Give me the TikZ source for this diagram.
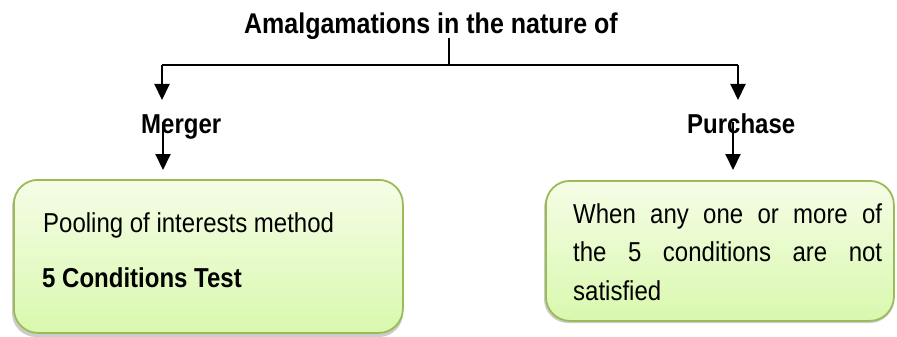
\documentclass[tikz,border=0pt]{standalone}
\usepackage{fontspec}
\setmainfont{Liberation Sans}
\usetikzlibrary{arrows.meta}
\definecolor{boxline}{HTML}{9BBB59}
\definecolor{boxtop}{HTML}{F5FDE6}
\definecolor{boxbot}{HTML}{D9F8AE}
\newcommand{\tallx}[1]{\scalebox{1}[1.14]{#1}}
\tikzset{
  big/.style={font=\fontsize{24}{39}\selectfont, inner sep=0pt},
  ttl/.style={font=\fontsize{25}{30}\selectfont\bfseries, inner sep=0pt},
  lbl/.style={font=\fontsize{24}{30}\selectfont\bfseries, inner sep=0pt},
  greenbox/.style={draw=boxline, line width=1.8pt, rounded corners=24pt,
     top color=boxtop, bottom color=boxbot, inner sep=0pt},
  conn/.style={line width=2pt},
  arr/.style={line width=2pt, -{Triangle[length=16pt,width=15pt]}},
}
\begin{document}
\begin{tikzpicture}[x=1pt,y=-1pt]
\useasboundingbox (0,0) rectangle (897,337);
% shadows
\fill[black!40, opacity=0.5, rounded corners=24pt] (12,183) rectangle (403,337);
\fill[black!40, opacity=0.5, rounded corners=24pt] (544,184) rectangle (894,323);
% boxes
\node[greenbox, anchor=north west, minimum width=389pt, minimum height=153pt] (mbox) at (13,179) {};
\node[greenbox, anchor=north west, minimum width=348pt, minimum height=140pt] (pbox) at (545,180) {};
% title
\node[ttl, anchor=base] (title) at (431,34) {\tallx{Amalgamations in the nature of}};
\coordinate (tj) at (449,38);
\coordinate (jn) at (449,65);
\coordinate (lt) at (162,65);
\coordinate (rt) at (738,65);
\draw[line width=1.2pt] (tj) -- (jn);
\draw[conn] (lt) -- (rt);
% labels
\node[lbl, anchor=base west] (merger) at (141,133) {\tallx{Merger}};
\node[lbl, anchor=base west] (purchase) at (687,133) {\tallx{Purchase}};
\coordinate (lb) at (162,100);
\coordinate (rb) at (738,100);
\draw[arr] (lt) -- (lb);
\draw[arr] (rt) -- (rb);
\coordinate (ma) at (163,122);
\coordinate (mb) at (163,170);
\coordinate (pa) at (733,122);
\coordinate (pb) at (733,170);
\draw[arr] (ma) -- (mb);
\draw[arr] (pa) -- (pb);
% box texts
\node[big, anchor=base west] (pool) at (43,232) {\tallx{Pooling of interests method}};
\node[big, anchor=base west, font=\fontsize{24}{39}\selectfont\bfseries] (test) at (42,287) {\tallx{5 Conditions Test}};
\node[inner sep=0pt, anchor=base west] (when) at (573,223)
  {\tallx{\parbox[t]{309pt}{\fontsize{24}{34.2}\selectfont
   When any one or more of\linebreak the 5 conditions are not\linebreak satisfied}}};
\end{tikzpicture}
\end{document}
